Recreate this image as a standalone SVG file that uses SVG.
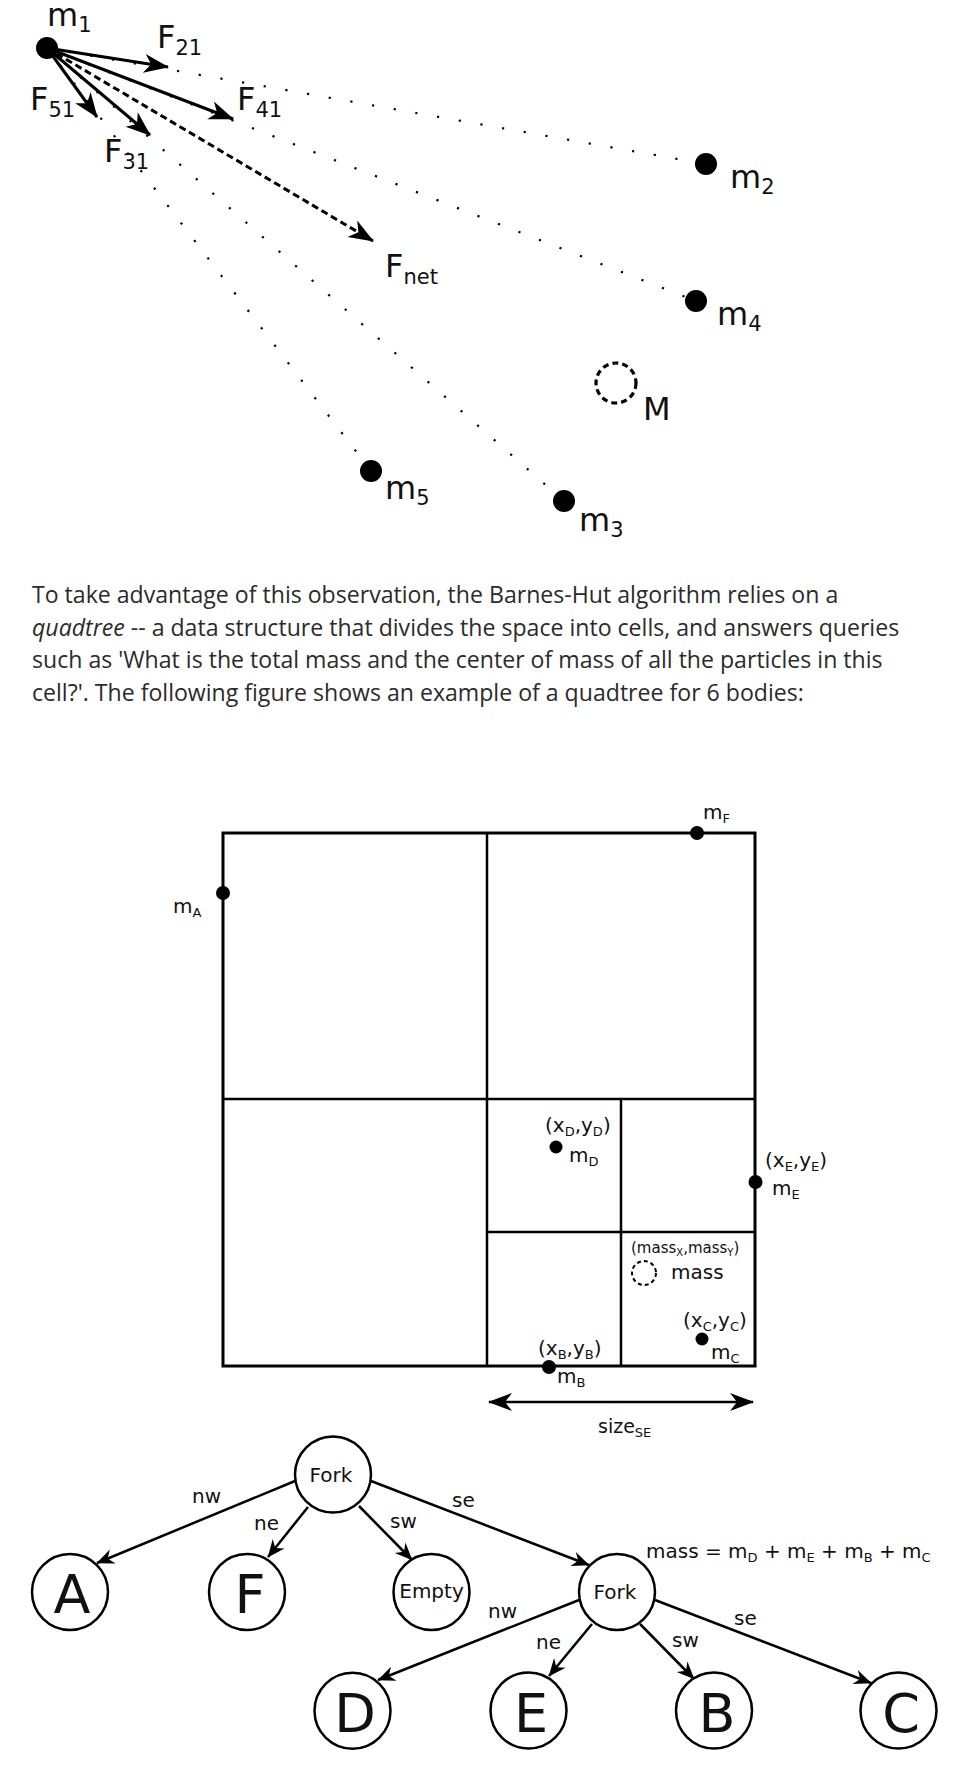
<svg xmlns="http://www.w3.org/2000/svg" width="972" height="1787" viewBox="0 0 972 1787">
<style>
.lbl{font-family:"DejaVu Sans",sans-serif;fill:#111}
.big{font-size:32px}
.bsub{font-size:21px}
.q{font-size:20px}
.qs{font-size:13px}
.para{font-family:"Open Sans",sans-serif;font-size:23.1px;fill:#2b2b2b}
.dot{stroke:#000;stroke-width:2.2;stroke-dasharray:2.2 19.8;fill:none}
.farr{stroke:#000;stroke-width:3;fill:none;marker-end:url(#bigHead)}
.grid{stroke:#000;fill:none}
.edge{stroke:#000;stroke-width:2.5;fill:none;marker-end:url(#smallHead)}
.node{fill:#fff;stroke:#000;stroke-width:2.5}
.nt{font-family:"DejaVu Sans",sans-serif;fill:#111;text-anchor:middle}
</style>
<defs>
<marker id="bigHead" markerUnits="userSpaceOnUse" markerWidth="30" markerHeight="30" viewBox="-26 -12 30 24" refX="1" refY="0" orient="auto">
<path d="M2,0 L-23,-9.5 L-16,0 L-23,9.5 Z" fill="#000"/>
</marker>
<marker id="bigHeadS" markerUnits="userSpaceOnUse" markerWidth="30" markerHeight="30" viewBox="-26 -12 30 24" refX="1" refY="0" orient="auto-start-reverse">
<path d="M2,0 L-22,-9 L-15,0 L-22,9 Z" fill="#000"/>
</marker>
<marker id="smallHead" markerUnits="userSpaceOnUse" markerWidth="20" markerHeight="20" viewBox="-18 -9 20 18" refX="1" refY="0" orient="auto">
<path d="M1.5,0 L-16,-7.5 L-10.5,0 L-16,7.5 Z" fill="#000"/>
</marker>
</defs>

<!-- Top: force diagram -->
<g id="forces">
<g id="dotted-lines">
<line class="dot" x1="47" y1="48" x2="706" y2="164"/>
<line class="dot" x1="47" y1="48" x2="696" y2="301"/>
<line class="dot" x1="47" y1="48" x2="564" y2="501"/>
<line class="dot" x1="47" y1="48" x2="371" y2="471"/>
</g>
<g id="force-arrows">
<line class="farr" x1="47" y1="48" x2="168" y2="67"/>
<line class="farr" x1="47" y1="48" x2="233" y2="119"/>
<line class="farr" x1="47" y1="48" x2="97" y2="117"/>
<line class="farr" x1="47" y1="48" x2="150" y2="135"/>
<line class="farr" x1="47" y1="48" x2="373" y2="241" stroke-dasharray="7 4"/>
</g>
<g id="m1"><circle cx="47" cy="48" r="11" fill="#000"/><text class="lbl big" x="47" y="26">m<tspan class="bsub" dy="6">1</tspan></text></g>
<g id="m2"><circle cx="706" cy="164" r="11" fill="#000"/><text class="lbl big" x="730" y="188">m<tspan class="bsub" dy="6">2</tspan></text></g>
<g id="m4"><circle cx="696" cy="301" r="11" fill="#000"/><text class="lbl big" x="717" y="325">m<tspan class="bsub" dy="6">4</tspan></text></g>
<g id="m5"><circle cx="371" cy="471" r="11" fill="#000"/><text class="lbl big" x="385" y="499">m<tspan class="bsub" dy="6">5</tspan></text></g>
<g id="m3"><circle cx="564" cy="501" r="11" fill="#000"/><text class="lbl big" x="579" y="531">m<tspan class="bsub" dy="6">3</tspan></text></g>
<g id="M"><circle cx="616" cy="383" r="20" fill="none" stroke="#000" stroke-width="3.2" stroke-dasharray="6 4"/><text class="lbl big" x="643" y="420">M</text></g>
<text class="lbl big" x="157" y="48">F<tspan class="bsub" dy="7">21</tspan></text>
<text class="lbl big" x="237" y="110">F<tspan class="bsub" dy="7">41</tspan></text>
<text class="lbl big" x="30" y="110">F<tspan class="bsub" dy="7">51</tspan></text>
<text class="lbl big" x="104" y="162">F<tspan class="bsub" dy="7">31</tspan></text>
<text class="lbl big" x="385" y="277">F<tspan class="bsub" dy="7">net</tspan></text>
</g>

<!-- Paragraph -->
<g id="paragraph">
<text class="para" x="32" y="603">To take advantage of this observation, the Barnes-Hut algorithm relies on a</text>
<text class="para" x="32" y="635.6"><tspan font-style="italic">quadtree</tspan> -- a data structure that divides the space into cells, and answers queries</text>
<text class="para" x="32" y="668.2">such as 'What is the total mass and the center of mass of all the particles in this</text>
<text class="para" x="32" y="700.8">cell?'. The following figure shows an example of a quadtree for 6 bodies:</text>
</g>

<!-- Quadtree -->
<g id="quadtree">
<rect class="grid" x="223" y="833" width="532" height="533" stroke-width="3"/>
<line class="grid" x1="487" y1="833" x2="487" y2="1366" stroke-width="2.5"/>
<line class="grid" x1="223" y1="1099" x2="755" y2="1099" stroke-width="2.5"/>
<line class="grid" x1="621" y1="1099" x2="621" y2="1366" stroke-width="2.5"/>
<line class="grid" x1="487" y1="1232" x2="755" y2="1232" stroke-width="2.5"/>
<g id="qA"><circle cx="223" cy="893" r="7" fill="#000"/><text class="lbl q" x="173" y="913">m<tspan class="qs" dy="4">A</tspan></text></g>
<g id="qF"><circle cx="697" cy="833" r="7" fill="#000"/><text class="lbl q" x="703" y="819">m<tspan class="qs" dy="4">F</tspan></text></g>
<g id="qD"><circle cx="556" cy="1147" r="6.5" fill="#000"/>
<text class="lbl q" x="545" y="1132">(x<tspan class="qs" dy="4">D</tspan><tspan dy="-4">,y</tspan><tspan class="qs" dy="4">D</tspan><tspan dy="-4">)</tspan></text>
<text class="lbl q" x="569" y="1162">m<tspan class="qs" dy="4">D</tspan></text></g>
<g id="qE"><circle cx="755.5" cy="1182" r="7" fill="#000"/>
<text class="lbl q" x="765" y="1167">(x<tspan class="qs" dy="4">E</tspan><tspan dy="-4">,y</tspan><tspan class="qs" dy="4">E</tspan><tspan dy="-4">)</tspan></text>
<text class="lbl q" x="772" y="1195">m<tspan class="qs" dy="4">E</tspan></text></g>
<g id="qMass"><circle cx="644" cy="1273" r="12" fill="none" stroke="#000" stroke-width="2" stroke-dasharray="4 3"/>
<text class="lbl" font-size="15" x="631" y="1253">(mass<tspan font-size="10" dy="3">X</tspan><tspan dy="-3">,mass</tspan><tspan font-size="10" dy="3">Y</tspan><tspan dy="-3">)</tspan></text>
<text class="lbl q" x="671" y="1279">mass</text></g>
<g id="qC"><circle cx="702" cy="1339" r="6.5" fill="#000"/>
<text class="lbl q" x="683" y="1327">(x<tspan class="qs" dy="4">C</tspan><tspan dy="-4">,y</tspan><tspan class="qs" dy="4">C</tspan><tspan dy="-4">)</tspan></text>
<text class="lbl q" x="711" y="1359">m<tspan class="qs" dy="4">C</tspan></text></g>
<g id="qB"><circle cx="549" cy="1367" r="7" fill="#000"/>
<text class="lbl q" x="538" y="1355">(x<tspan class="qs" dy="4">B</tspan><tspan dy="-4">,y</tspan><tspan class="qs" dy="4">B</tspan><tspan dy="-4">)</tspan></text>
<text class="lbl q" x="557" y="1383">m<tspan class="qs" dy="4">B</tspan></text></g>
<line x1="489" y1="1402" x2="753" y2="1402" stroke="#000" stroke-width="2.5" marker-start="url(#bigHeadS)" marker-end="url(#bigHeadS)"/>
<text class="lbl" font-size="19" x="598" y="1433">size<tspan class="qs" dy="4">SE</tspan></text>
</g>

<!-- Tree connectors -->
<g id="connectors">
<line class="edge" x1="295" y1="1481" x2="97" y2="1563"/>
<line class="edge" x1="308" y1="1507" x2="268" y2="1557"/>
<line class="edge" x1="359" y1="1506" x2="412" y2="1560"/>
<line class="edge" x1="371" y1="1481" x2="589" y2="1565"/>
<line class="edge" x1="579" y1="1600" x2="378" y2="1680"/>
<line class="edge" x1="592" y1="1624" x2="549" y2="1676"/>
<line class="edge" x1="640" y1="1624" x2="694" y2="1679"/>
<line class="edge" x1="655" y1="1600" x2="871" y2="1683"/>
<text class="lbl" font-size="20" x="192" y="1503">nw</text>
<text class="lbl" font-size="20" x="254" y="1530">ne</text>
<text class="lbl" font-size="20" x="390" y="1528">sw</text>
<text class="lbl" font-size="20" x="452" y="1507">se</text>
<text class="lbl" font-size="20" x="488" y="1618">nw</text>
<text class="lbl" font-size="20" x="536" y="1649">ne</text>
<text class="lbl" font-size="20" x="672" y="1647">sw</text>
<text class="lbl" font-size="20" x="734" y="1625">se</text>
</g>

<!-- Tree nodes -->
<g id="node-root"><circle class="node" cx="333" cy="1474.6" r="38"/><text class="nt" font-size="20" x="331" y="1482">Fork</text></g>
<g id="node-A"><circle class="node" cx="70" cy="1592" r="38"/><text class="nt" font-size="54" x="72" y="1613">A</text></g>
<g id="node-F"><circle class="node" cx="247" cy="1592" r="38"/><text class="nt" font-size="54" x="250" y="1613">F</text></g>
<g id="node-Empty"><circle class="node" cx="431.5" cy="1592" r="38"/><text class="nt" font-size="20" x="431.5" y="1598">Empty</text></g>
<g id="node-fork2"><circle class="node" cx="617" cy="1592" r="38"/><text class="nt" font-size="20" x="615" y="1599">Fork</text>
<text class="lbl" font-size="20" x="646" y="1558">mass = m<tspan class="qs" dy="4">D</tspan><tspan dy="-4"> + m</tspan><tspan class="qs" dy="4">E</tspan><tspan dy="-4"> + m</tspan><tspan class="qs" dy="4">B</tspan><tspan dy="-4"> + m</tspan><tspan class="qs" dy="4">C</tspan></text></g>
<g id="node-D"><circle class="node" cx="352.5" cy="1710.7" r="38"/><text class="nt" font-size="54" x="355" y="1732">D</text></g>
<g id="node-E"><circle class="node" cx="528.5" cy="1710.5" r="38"/><text class="nt" font-size="54" x="531" y="1732">E</text></g>
<g id="node-B"><circle class="node" cx="714" cy="1710.5" r="38"/><text class="nt" font-size="54" x="717" y="1732">B</text></g>
<g id="node-C"><circle class="node" cx="898.5" cy="1710.5" r="38"/><text class="nt" font-size="54" x="901" y="1732">C</text></g>
</svg>
